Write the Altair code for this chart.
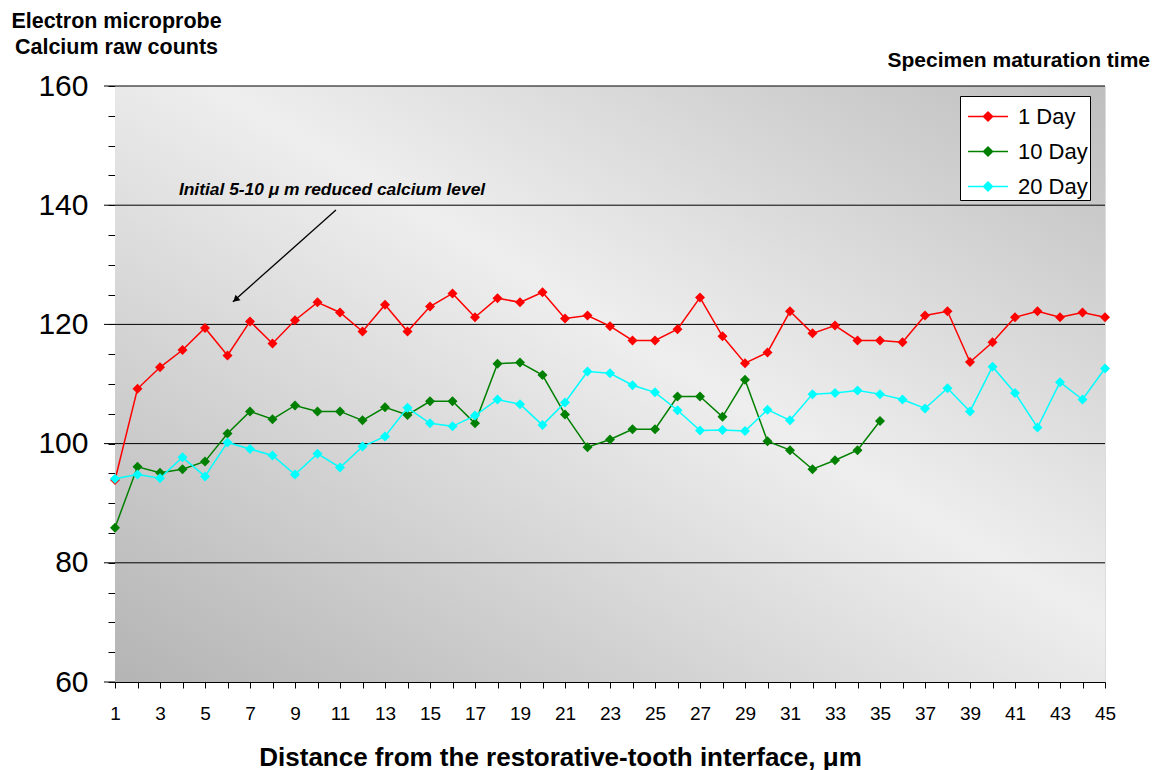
import altair as alt
import pandas as pd

# ---------------- data ----------------
x_vals = list(range(1, 46))
series_names = ["1 Day", "10 Day", "20 Day"]
series_colors = ["#ff0000", "#008000", "#00ffff"]

day1 = [93.9, 109.2, 112.8, 115.7, 119.4, 114.8, 120.5, 116.8, 120.7, 123.7,
        122.0, 118.8, 123.3, 118.8, 123.0, 125.2, 121.2, 124.4, 123.7, 125.4,
        121.0, 121.5, 119.7, 117.3, 117.3, 119.2, 124.5, 118.0, 113.5, 115.3,
        122.2, 118.5, 119.8, 117.3, 117.3, 117.0, 121.5, 122.2, 113.7, 117.0,
        121.2, 122.2, 121.2, 122.0, 121.2]
day10 = [85.9, 96.1, 95.1, 95.7, 97.0, 101.7, 105.4, 104.1, 106.4, 105.4,
         105.4, 103.9, 106.1, 104.8, 107.1, 107.1, 103.4, 113.4, 113.6, 111.5,
         104.9, 99.4, 100.7, 102.4, 102.4, 107.9, 107.9, 104.5, 110.7, 100.4,
         98.9, 95.7, 97.2, 98.9, 103.8]
day20 = [94.1, 94.8, 94.2, 97.7, 94.5, 100.2, 99.1, 98.0, 94.8, 98.3,
         96.0, 99.5, 101.2, 106.0, 103.4, 102.9, 104.7, 107.4, 106.6, 103.1,
         106.9, 112.1, 111.8, 109.8, 108.6, 105.6, 102.2, 102.3, 102.1, 105.7,
         103.9, 108.3, 108.5, 108.9, 108.3, 107.4, 105.9, 109.3, 105.4, 112.9,
         108.5, 102.7, 110.3, 107.4, 112.6]

y_tick_values = list(range(60, 161, 5))
y_major_ticks = [60, 80, 100, 120, 140, 160]
grid_values = [80, 100, 120, 140, 160]

y_title = ["Electron microprobe", "Calcium raw counts"]
x_title = "Distance from the restorative-tooth interface, \u03bcm"
legend_heading = "Specimen maturation time"
note_text = "Initial 5-10 \u03bc m reduced calcium level"
# annotation arrow (data coordinates): start, tip, head centre
arrow_start = (10.82, 139.2)
arrow_tip = (6.24, 123.8)
arrow_head = (6.36, 124.15)
note_pos = (3.84, 141.7)

# ---------------- build table ----------------
rows = []
for name, vals in zip(series_names, [day1, day10, day20]):
    for i, v in enumerate(vals):
        rows.append({"x": x_vals[i], "value": v, "series": name})
df = pd.DataFrame(rows)

W, H = 990, 596
FONT = "Liberation Sans"

xscale = alt.Scale(domain=[1, 45], nice=False, zero=False)
yscale = alt.Scale(domain=[60, 160], nice=False, zero=False)

legend_symbol = "M-0.71,0H1.57M0.17,0L0.43,-0.26L0.69,0L0.43,0.26Z"
legend = alt.Legend(
    title=None, orient="none", legendX=845, legendY=10,
    fillColor="white", strokeColor="black", padding=2,
    symbolType=legend_symbol, symbolSize=1225, symbolStrokeWidth=1.5,
    labelFont=FONT, labelFontSize=22, labelColor="black", labelOffset=19,
    rowPadding=5,
)
color = alt.Color("series:N", scale=alt.Scale(domain=series_names, range=series_colors),
                  legend=legend, sort=series_names)

x_axis = alt.Axis(
    values=x_vals, labelExpr="datum.value % 2 == 1 ? datum.label : ''",
    tickSize=6, tickColor="black", domainColor="black", grid=False,
    labelFont=FONT, labelFontSize=19, labelColor="black", labelPadding=16,
    labelOverlap=False, labelFlush=False,
    title=x_title, titleFont=FONT, titleFontSize=26, titleFontWeight="bold",
    titleColor="black", titleX=445, titleY=83, titleAlign="center",
    titleBaseline="alphabetic",
)
y_axis = alt.Axis(
    values=y_tick_values, labelExpr="datum.value % 20 == 0 ? datum.label : ''",
    tickSize=7, tickColor="black", domainColor="black", grid=False,
    labelFont=FONT, labelFontSize=30, labelColor="black", labelPadding=20,
    labelOverlap=False, labelFlush=False,
    title=y_title, titleAngle=0, titleAlign="center", titleX=1, titleY=-59,
    titleBaseline="alphabetic", titleFont=FONT, titleFontSize=21.5,
    titleFontWeight="bold", titleColor="black", titleLineHeight=26,
)

X = alt.X("x:Q", scale=xscale, axis=x_axis)
Y = alt.Y("value:Q", scale=yscale, axis=y_axis)

background = alt.Chart(pd.DataFrame({"a": [0]})).mark_rect(
    color=alt.Gradient(
        gradient="linear", x1=0, y1=1, x2=1, y2=0,
        stops=[alt.GradientStop(offset=0, color="#b4b4b4"),
               alt.GradientStop(offset=0.55, color="#eeeeee"),
               alt.GradientStop(offset=1, color="#bebebe")],
    )
).encode(x=alt.value(0), x2=alt.value(W), y=alt.value(0), y2=alt.value(H))

grid = alt.Chart(pd.DataFrame({"g": grid_values})).mark_rule(
    color="black", strokeWidth=1
).encode(y=alt.Y("g:Q", scale=yscale, axis=y_axis))

major = alt.Chart(pd.DataFrame({"g": y_major_ticks})).mark_rule(
    color="black", strokeWidth=1
).encode(y=alt.Y("g:Q", scale=yscale, axis=y_axis), x=alt.value(-11), x2=alt.value(0))

lines = alt.Chart(df).mark_line(strokeWidth=1.5).encode(x=X, y=Y, color=color)
points = alt.Chart(df).mark_point(shape="diamond", filled=True, size=100, opacity=1).encode(
    x=X, y=Y, color=color)

arrow_df = pd.DataFrame({"x1": [arrow_start[0]], "y1": [arrow_start[1]],
                         "x2": [arrow_tip[0]], "y2": [arrow_tip[1]],
                         "hx": [arrow_head[0]], "hy": [arrow_head[1]],
                         "tx": [note_pos[0]], "ty": [note_pos[1]], "t": [note_text]})
arrow = alt.Chart(arrow_df).mark_rule(color="black", strokeWidth=1.3).encode(
    x=alt.X("x1:Q", scale=xscale, axis=x_axis), y=alt.Y("y1:Q", scale=yscale, axis=y_axis),
    x2="x2:Q", y2="y2:Q")
head = alt.Chart(arrow_df).mark_point(shape="triangle-up", filled=True, color="black",
                                      size=55, angle=228, opacity=1).encode(
    x=alt.X("hx:Q", scale=xscale, axis=x_axis), y=alt.Y("hy:Q", scale=yscale, axis=y_axis))
note = alt.Chart(arrow_df).mark_text(align="left", baseline="alphabetic", font=FONT,
                                     fontSize=17.4, fontWeight="bold", fontStyle="italic",
                                     color="black").encode(
    x=alt.X("tx:Q", scale=xscale, axis=x_axis), y=alt.Y("ty:Q", scale=yscale, axis=y_axis),
    text="t:N")

heading = alt.Chart(pd.DataFrame({"t": [legend_heading]})).mark_text(
    align="right", baseline="alphabetic", font=FONT, fontSize=21, fontWeight="bold",
    color="black").encode(x=alt.value(1035), y=alt.value(-19), text="t:N")

chart = alt.layer(background, grid, major, lines, points, arrow, head, note, heading).properties(
    width=W, height=H,
    autosize=alt.AutoSizeParams(type="none"),
    padding={"left": 107, "top": 78, "right": 45, "bottom": 90},
).configure_view(stroke="#808080", strokeWidth=1).configure(background="white")

chart.save("out.html", embed_options={"renderer": "svg", "actions": False})
